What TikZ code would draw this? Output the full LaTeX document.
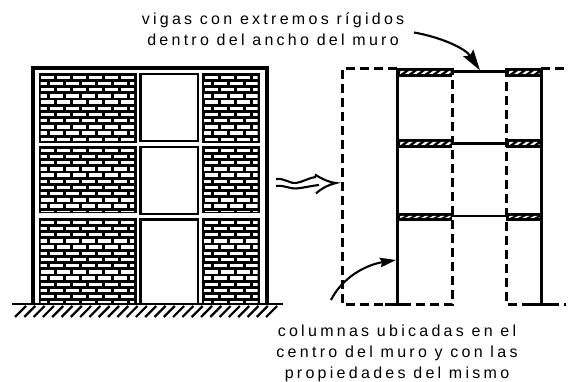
\documentclass[tikz,border=0pt]{standalone}
\usepackage{fontspec}
\setmainfont[LetterSpace=20.5]{Liberation Sans}
\usetikzlibrary{arrows.meta}
\newcommand{\brickpanel}[4]{% x0 y0 x1 y1
  \begin{scope}
    \fill[black] (#1,#2) rectangle (#3,#4);
    \clip (#1+2,#2+2) rectangle (#3-2.5,#4-1.5);
    \pgfmathtruncatemacro{\nrows}{int((#4-#2)/6.2)+1}
    \foreach \r in {0,...,\nrows}{
      \pgfmathsetmacro{\yy}{#2+2.6+\r*6.2}
      \pgfmathsetmacro{\off}{mod(\r,2)==0 ? 0 : -7}
      \foreach \c in {-1,...,7}{
        \pgfmathsetmacro{\xx}{#1+\off+\c*16+2.7}
        \fill[white] (\xx,\yy) rectangle (\xx+13,\yy+3.5);
      }
    }
  \end{scope}}
\tikzset{
  txt/.style={font=\fontsize{16}{21}\selectfont,align=center,inner sep=0pt},
  wallline/.style={line width=3.2pt,black},
  thinwin/.style={line width=2.8pt,black},
  coldash/.style={line width=3pt,dash pattern=on 9pt off 5pt},
  colsolid/.style={line width=3pt},
  leader/.style={line width=2.1pt},
  wavy/.style={line width=2.1pt},
}
\begin{document}
\begin{tikzpicture}[x=1pt,y=-1pt]
\useasboundingbox (0,0) rectangle (568,382);
\brickpanel{38.5}{73}{136.5}{143}
\brickpanel{38.5}{146}{136.5}{213.5}
\brickpanel{38.5}{218}{136.5}{304}
\brickpanel{202}{73}{260}{143}
\brickpanel{202}{146}{260}{213.5}
\brickpanel{202}{218}{260}{304}
\draw[wallline] (33,304) -- (33,68) -- (267,68) -- (267,304);
\draw[thinwin] (198,304) -- (198,219.5) -- (140.5,219.5) -- (140.5,304);
\draw[thinwin] (140.5,147) rectangle (198,214);
\draw[thinwin] (140.5,74) rectangle (198,141);
\draw[line width=2.8pt] (12,304) -- (283,304);
\foreach \x in {15,24.3,...,272}{\draw[line width=2.2pt] (\x,317) -- (\x+11,306);}
% right frame
\foreach \yt/\yb/\ym in {68/77/71.5,139/148/143.5,213/221/216}{
  \foreach \xa/\xb in {397/452,506/541}{
    \fill[black] (\xa,\yt) rectangle (\xb,\yb);
    \begin{scope}
      \clip (\xa+3,\yt+3) rectangle (\xb-1.5,\yb-3);
      \foreach \x in {0,8,...,56}{
        \fill[white] (\xa+\x,\yb-3) -- (\xa+\x+3.6,\yb-3) -- (\xa+\x+7.6,\yt+3) -- (\xa+\x+4,\yt+3) -- cycle;
      }
    \end{scope}
  }
  \draw[line width=2.8pt] (452,\ym) -- (506,\ym);
}
\draw[coldash] (397,68.5) -- (342.6,68.5) -- (342.6,304.5) -- (452.6,304.5) -- (452.6,68);
\draw[coldash] (506.6,68) -- (506.6,304.5) -- (566,304.5);
\draw[coldash] (541,68.5) -- (566,68.5);
\draw[colsolid] (397,68) -- (397,304);
\draw[colsolid] (541,68) -- (541,304);
\draw[line width=3.2pt] (385,304.5) -- (409,304.5);
\draw[line width=3.2pt] (529,304.5) -- (553,304.5);
% wavy arrow
\draw[wavy] (276,179) .. controls (285,178) and (290,184) .. (296,183) .. controls (303,182) and (308,178) .. (316,177);
\draw[wavy] (276,186) .. controls (285,185) and (290,189) .. (296,188.5) .. controls (303,188) and (310,186) .. (319,185);
\draw[wavy] (315,174.5) .. controls (322,179) and (328,182) .. (336,183) .. controls (328,185) and (322,188) .. (316,193.5);
\node[txt] (top) at (273,29) {vigas con extremos rígidos\\dentro del ancho del muro};
\node[txt] (bot) at (397,353) {columnas ubicadas en el\\centro del muro y con las\\propiedades del mismo};
\coordinate (a1) at (414,32.5);
\coordinate (a1e) at (480,70.5);
\coordinate (a2) at (331,300);
\coordinate (a2e) at (396,260);
\draw[leader,-{Stealth[length=21pt,width=12pt,inset=3pt]}] (a1) .. controls (440,37) and (465,48) .. (a1e);
\draw[leader,-{Stealth[length=16pt,width=9.5pt,inset=2pt]}] (a2) .. controls (342,278) and (365,265) .. (a2e);
\end{tikzpicture}
\end{document}
